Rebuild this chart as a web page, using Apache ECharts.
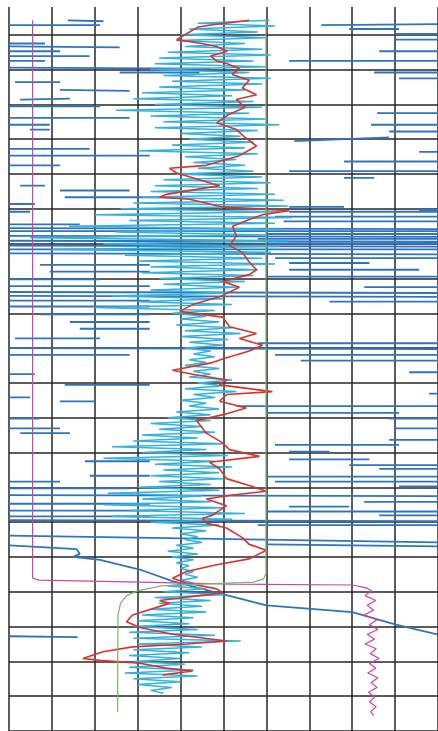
<!DOCTYPE html>
<html>
<head>
<meta charset="utf-8">
<script src="https://cdn.jsdelivr.net/npm/echarts@6/dist/echarts.min.js"></script>
<style>
html,body{margin:0;padding:0;background:#fff;}
#logChart{width:438px;height:731px;}
</style>
</head>
<body>
<div id="logChart"></div>
<script>
// well log curves, each point is [value, depth]
const pinkLog = [
  [5.5,-15],[5.5,562],[7,564],[30.5,566],[52.1,568],[80,569],[83.3,572],
  [84.5,575],[83,580],[85.5,585],[83.5,590],[85,595],[82.8,600],[85.8,605],[84,610],
  [86,615],[83.5,620],[85.2,625],[83,630],[85.6,635],[84.2,640],[86.3,645],[84,650],
  [85.5,655],[83.6,660],[86,665],[84.4,670],[85.8,675],[83.8,680],[85.3,685],[84,690],
  [85.6,695],[84.3,700],[85,704]
];

const greenLog = [
  [59.9,-15],[59.9,557],[59.3,563],[57,566],[45,568],[35.5,570],[30,575],
  [27.4,580],[26,588],[25.4,600],[25.3,700]
];

const redLog = [
  [56,-15],[48.4,-11],[44,-8],[41,0],[39.1,5],[44.9,9],[48.4,12],[50.9,17],[47,22],
  [48.4,27],[50.9,30],[53.7,35],[52,41],[56,47],[54.4,55],[57.7,62],[53,67],[55,75],
  [51,83],[48.4,91],[53,98],[55,106],[57.7,115],[53.7,125],[46,135],[37.4,138],
  [39.1,143],[45.1,151],[49.1,156],[36.7,165],[35.1,168],[42.1,170],[49.8,178],
  [65.3,182],[59.1,186],[56,191],[52.1,198],[53,208],[51.4,218],[54.4,225],[56,235],
  [57.7,243],[56,248],[49.8,255],[53.7,261],[49.1,271],[42.8,279],[39.8,286],
  [49.8,292],[51.4,302],[57.7,309],[53.7,314],[59.1,321],[56,327],[50.7,334],
  [47.4,339],[38.1,347],[42.8,351],[50.7,357],[49.1,362],[61.4,369],[50.7,372],
  [49.1,379],[55.3,386],[50.7,392],[43.7,399],[46,412],[49.8,422],[51.4,429],
  [58.4,436],[46.7,442],[49.1,449],[50.7,459],[56,466],[60,472],[52.1,476],[46,480],
  [50.7,487],[47.4,497],[45.1,500],[46,505],[50.7,510],[54.4,520],[56,527],[60,533],
  [56,542],[48.4,548],[41.4,555],[38.1,562],[41.4,567],[48.4,573],[49.8,577],
  [44.4,580],[35.1,585],[37.4,588],[28.8,600],[27.4,607],[30.5,613],[38.1,620],
  [50.7,627],[41.4,630],[28.8,633],[21.9,638],[17.2,645],[21.2,647],[30.5,650],
  [36.7,655],[42.8,658],[35.8,662]
];

const cyanLog = [
  [60.7,-15],[44,-12],[62,-9],[42,-6],[58,-3],[40,0],[60,3],[39,6],[55,9],[41,12],
  [59,15],[37,18],[61,21],[35,24],[57,27],[34,30],[60,33],[33,36],[56,39],[36,42],
  [61,45],[38,48],[59,51],[35,54],[55,57],[31,60],[52,63],[29,66],[57,69],[34,72],
  [59,75],[25,78],[56,81],[33,84],[60,87],[36,90],[63,93],[34,96],[58,99],[40,102],
  [54,105],[42,108],[57,111],[38,114],[55,117],[30,120],[58,123],[41,126],[53,129],
  [43,132],[55,135],[44,138],[57,141],[39,144],[59,147],[36,150],[61,153],[34,156],
  [58,159],[33,162],[62,165],[31,168],[64,171],[29,174],[65,177],[26,180],[63,183],
  [20,186],[66,189],[28,192],[62,195],[14,198],[64,201],[25,204],[60,207],[5,210],
  [65,213],[22,216],[63,219],[10,222],[61,225],[27,228],[59,231],[30,234],[62,237],
  [33,240],[58,243],[31,246],[57,249],[35,252],[55,255],[36,258],[53,261],[33,264],
  [51,267],[24,270],[50,273],[30,276],[52,279],[20,282],[48,285],[38,288],[46,291],
  [40,294],[49,297],[39,300],[52,303],[41,306],[54,309],[40,312],[51,315],[42,318],
  [50,321],[41,324],[47,327],[43,330],[48,333],[42,336],[46,339],[41,342],[49,345],
  [43,348],[47,351],[42,354],[52,357],[44,360],[50,363],[41,366],[53,369],[43,372],
  [48,375],[40,378],[46,381],[42,384],[49,387],[39,390],[47,393],[37,396],[47,399],
  [33,402],[45,405],[35,408],[48,411],[31,414],[44,417],[29,420],[50,423],[24,426],
  [46,429],[31,432],[51,435],[22,438],[48,441],[34,444],[52,447],[36,450],[49,453],
  [33,456],[50,459],[35,462],[47,465],[30,468],[49,471],[23,474],[45,477],[31,480],
  [47,483],[22,486],[50,489],[28,492],[55,495],[24,498],[52,501],[33,504],[49,507],
  [38,510],[46,513],[40,516],[44,519],[41,522],[45,525],[39,528],[43,531],[37,534],
  [44,537],[38,540],[43,543],[39,546],[42,549],[40,552],[43,555],[41,558],[44,561],
  [40,564],[43,567],[37,570],[46,573],[36,576],[50,579],[34,582],[47,585],[35,588],
  [45,591],[33,594],[46,597],[31,600],[43,603],[30,606],[42,609],[29,612],[44,615],
  [28,618],[48,621],[29,624],[54,627],[30,630],[45,633],[29,636],[42,639],[28,642],
  [40,645],[29,648],[41,651],[28,654],[43,657],[27,660],[44,663],[29,666],[40,669],
  [30,672],[38,675],[33,678],[36,681]
];

// blue curve: broken runs, one run per array
const blueRuns = [
  [[13.7,-15],[22,-14]], [[0,-10],[21.2,-10]], [[0,9],[8.4,9]], [[0,12],[25.8,13]],
  [[0,17],[11.9,17]], [[0,22],[18.8,22]], [[0,27],[8.4,27]], [[0,34],[46.7,35]],
  [[25.8,39],[44.4,39]], [[1.4,49],[11.9,49]], [[11.9,57],[28.1,58]], [[2.6,67],[14.2,66]],
  [[0,74],[21.2,74]], [[0,86],[28.1,86]], [[0,93],[9.5,93]], [[4.9,98],[9.5,98]],
  [[0,118],[18.8,118]], [[0,125],[32.8,125]], [[0,135],[11.9,135]], [[2.6,156],[8.4,156]],
  [[11.9,161],[28.1,161]], [[13,168],[35.1,168]],
  [[72.8,-10],[100,-11]], [[79.3,-6],[90.9,-6]], [[89.8,-1],[100,-1]], [[90,5],[100,5]],
  [[86.3,17],[100,17]], [[65.3,27],[100,27]], [[85.1,39],[100,39]], [[90.9,45],[100,45]],
  [[85.8,81],[100,81]], [[84.4,93],[100,93]], [[88.6,100],[100,100]], [[66.5,110],[88.6,106]],
  [[95.6,121],[100,121]], [[78.1,131],[100,131]], [[65.3,141],[100,141]], [[78.1,148],[85.1,148]],
  [[0,175],[6,175]], [[65.3,178],[78.1,178]], [[95.6,181],[100,181]], [[0,183],[4.9,183]],
  [[65.3,183],[100,183]], [[62,188],[100,188]], [[64,193],[100,193]], [[0,196],[16.5,196]],
  [[0,200],[100,201]], [[0,203],[100,203]], [[60,206],[100,206]], [[0,208],[100,209]],
  [[58,211],[100,211]], [[0,213],[100,214]], [[60,216],[100,216]], [[0,218],[100,219]],
  [[0,222],[100,222]], [[0,226],[100,227]], [[62,231],[100,231]], [[65.3,236],[84,236]],
  [[7.2,238],[32.8,238]], [[65.3,243],[95.6,243]], [[9.5,245],[32.8,245]], [[60,250],[100,250]],
  [[0,253],[21.2,253]], [[0,260],[32.8,260]], [[82.8,261],[100,261]], [[0,266],[100,267]],
  [[0,270],[100,271]], [[0,275],[32.8,275]], [[74.7,276],[100,276]], [[0,281],[32.8,281]],
  [[7.2,289],[32.8,289]], [[14.2,297],[32.8,297]], [[16.5,304],[32.8,304]], [[1.4,314],[21.2,314]],
  [[58,319],[100,319]], [[0,324],[100,325]], [[0,331],[28.1,331]], [[62,331],[100,331]],
  [[68,337],[100,337]], [[93.3,349],[100,349]], [[0,351],[6,351]], [[13,362],[32.8,362]],
  [[97.9,371],[100,371]], [[0,375],[4.9,375]], [[11.9,379],[20,379]], [[53,384],[100,384]],
  [[60,391],[90.9,391]], [[0,397],[7.2,397]], [[88.6,397],[100,397]], [[0,407],[11.9,407]],
  [[89.8,407],[100,407]], [[2.6,412],[14.2,412]], [[88.6,419],[100,419]], [[62,424],[90.9,424]],
  [[65.3,431],[74.7,431]], [[65.3,439],[84,439]], [[17.7,441],[32.8,441]], [[79.3,445],[100,445]],
  [[86.3,449],[100,449]], [[18.8,456],[32.8,456]], [[60,457],[100,457]], [[0,462],[11.9,462]],
  [[62,462],[100,462]], [[90.9,467],[100,467]], [[0,469],[28.1,469]], [[0,476],[100,477]],
  [[82.8,483],[100,483]], [[0,485],[32.8,485]], [[65.3,488],[79.3,488]], [[0,492],[32.8,492]],
  [[60,493],[100,493]], [[86.3,497],[100,497]], [[0,498],[32.8,498]], [[0,502],[100,503]],
  [[58,507],[100,507]],
  [[0,518],[100,525]], [[60,527],[100,529]],
  [[0.2,528],[15.8,532],[16.5,537],[14.9,540],[21.2,543],[30.5,553],[38.1,565],[48.4,577],
   [60,590],[80,597],[90.2,610],[99.8,620]],
  [[0.2,622],[16,623]]
];

// join runs with gaps so the line breaks between them
let blueLog = [];
blueRuns.forEach(function (run) {
  blueLog = blueLog.concat(run);
  blueLog.push(['-', '-']);
});

let myChart = echarts.init(document.getElementById('logChart'));

function logLine(name, data, color, width, z) {
  return {
    name: name,
    type: 'line',
    data: data,
    showSymbol: false,
    symbol: 'none',
    z: z,
    connectNulls: false,
    lineStyle: { color: color, width: width }
  };
}

myChart.setOption({
  animation: false,
  backgroundColor: '#fff',
  grid: { left: 9, right: -3, top: -13, bottom: -8 },
  xAxis: {
    type: 'value',
    min: 0,
    max: 100,
    interval: 10,
    axisLine: { show: false },
    axisTick: { show: false },
    axisLabel: { show: false },
    splitLine: { show: true, lineStyle: { color: '#262626', width: 1.5 } }
  },
  yAxis: {
    type: 'value',
    inverse: true,
    min: -36,
    max: 720,
    interval: 36,
    axisLine: { show: false },
    axisTick: { show: false },
    axisLabel: { show: false },
    splitLine: { show: true, lineStyle: { color: '#262626', width: 1.5 } }
  },
  graphic: [{
    type: 'rect',
    z: 100,
    shape: { x: 0, y: 0, width: 438, height: 7 },
    style: { fill: '#fff' }
  }],
  series: [
    logLine('blue', blueLog, '#2f74c0', 1.8, 2),
    logLine('cyan', cyanLog, '#34b2df', 1.5, 3),
    logLine('red', redLog, '#d8342c', 1.6, 4),
    logLine('pink', pinkLog, '#cc44a4', 1.2, 5),
    logLine('green', greenLog, '#7cb46e', 1.2, 5)
  ]
});
</script>
</body>
</html>
